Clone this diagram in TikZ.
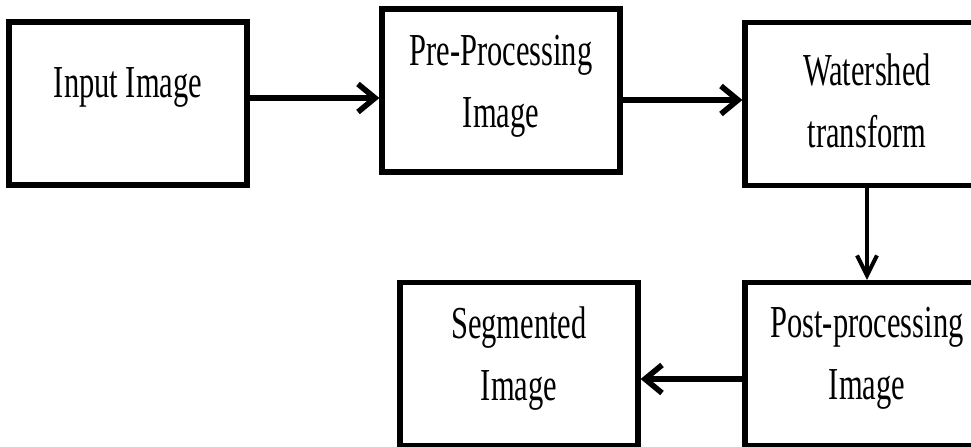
\documentclass[tikz,border=0pt]{standalone}
\usepackage{fontspec}
\setmainfont{Liberation Serif}
\usepackage{graphicx}
\usepackage{tikz}
\usetikzlibrary{arrows.meta,positioning}
\newcommand{\lbl}[2]{\raisebox{#1}[\height][\depth]{\scalebox{1}[1.5]{\begin{tabular}{@{}c@{}}#2\end{tabular}}}}
\tikzset{
  box/.style={draw=black,line width=2.6pt,minimum width=119pt,minimum height=81.5pt,inner sep=0pt,font=\fontsize{15.25}{20.7}\selectfont},
  harr/.style={-{Straight Barb[length=8.5pt,width=14pt]},line width=2.8pt},
  varr/.style={-{Straight Barb[length=10pt,width=10pt]},line width=2pt},
}

\begin{document}
\begin{tikzpicture}[x=0.5pt,y=0.5pt]
\useasboundingbox (0,0) rectangle (971,446);
\clip (0,0) rectangle (971,446);
\node[box] (in) at (128,342.5) {\lbl{9pt}{Input Image}};
\node[box,right=64.9pt of in,yshift=6.5pt] (pre) {\lbl{3pt}{Pre-Processing\\Image}};
\node[box,right=59.9pt of pre,yshift=-6.75pt,minimum width=122pt] (ws) {\lbl{0pt}{Watershed\\transform}};
\node[box,below=45.9pt of ws,minimum width=122pt] (post) {\lbl{4pt}{Post-processing\\Image}};
\node[box,left=50.9pt of post] (seg) {\lbl{3.5pt}{Segmented\\Image}};
\draw[harr] ([yshift=2.75pt]in.east) -- ([yshift=2.75pt]in.east -| pre.west);
\draw[harr] ([yshift=-4.75pt]pre.east) -- ([yshift=-4.75pt]pre.east -| ws.west);
\draw[varr] (ws) -- (post);
\draw[harr] ([yshift=-7.5pt]post.west) -- ([yshift=-7.5pt]post.west -| seg.east);
\end{tikzpicture}
\end{document}
